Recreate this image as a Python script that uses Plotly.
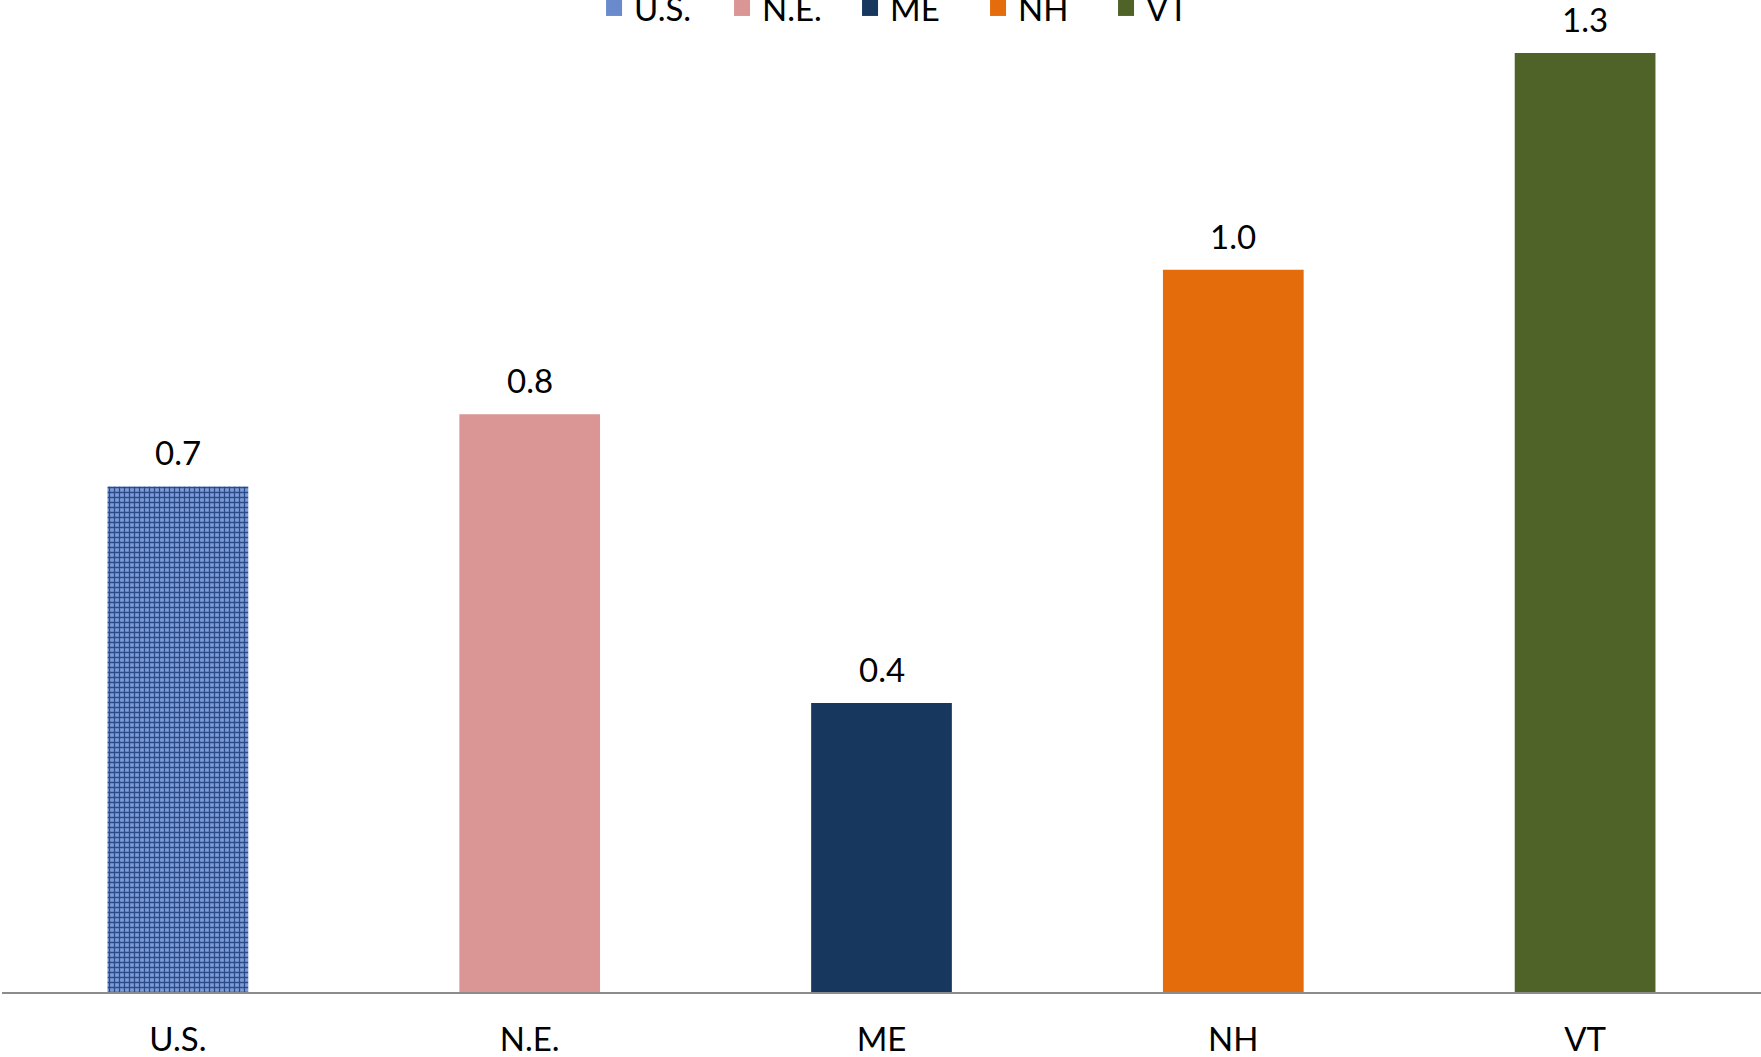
import plotly.graph_objects as go

categories = ["U.S.", "N.E.", "ME", "NH", "VT"]
values = [0.7, 0.8, 0.4, 1.0, 1.3]
colors = ["#6F8FCF", "#D99694", "#17375E", "#E46C0A", "#4F6228"]

FONT = "Lato, Open Sans, sans-serif"

fig = go.Figure()
for i, (cat, val, col) in enumerate(zip(categories, values, colors)):
    marker = dict(color=col, line=dict(width=0))
    if i == 0:
        marker["pattern"] = dict(shape="+", fgcolor="#2B4A88", bgcolor="#7E9DD8",
                                 size=5, solidity=0.45, fillmode="replace")
    fig.add_trace(go.Bar(x=[cat], y=[val], name=cat, marker=marker, width=0.4,
                         hoverinfo="skip", showlegend=False))
    fig.add_trace(go.Scatter(x=[None], y=[None], name=cat, mode="markers",
                             marker=dict(symbol="square", size=16,
                                         color="#6A8ACB" if i == 0 else col),
                             hoverinfo="skip"))
    fig.add_annotation(x=cat, y=val, text=f"{val:.1f}", showarrow=False,
                       yanchor="bottom", yshift=12,
                       font=dict(family=FONT, size=33, color="#000000"))

fig.update_layout(
    width=1761, height=1057,
    barmode="overlay",
    plot_bgcolor="white", paper_bgcolor="white",
    margin=dict(l=2, r=0, t=0, b=65, autoexpand=False),
    showlegend=True,
    legend=dict(orientation="h", x=0.5185, xanchor="center", y=1 - 8 / 992, yanchor="middle",
                font=dict(family=FONT, size=33, color="#000000"),
                bgcolor="rgba(0,0,0,0)", itemwidth=30, tracegroupgap=0,
                itemsizing="trace", entrywidth=83, entrywidthmode="pixels"),
    font=dict(family=FONT, size=33, color="#000000"),
)
fig.update_xaxes(categoryorder="array", categoryarray=categories,
                 range=[-0.5, 4.5], showline=True, linecolor="#8C8C8C", linewidth=2,
                 ticks="", showgrid=False, ticklabelstandoff=17,
                 tickfont=dict(family=FONT, size=33, color="#000000"))
fig.update_yaxes(range=[0, 1.3734], visible=False, showgrid=False, zeroline=False)

fig.write_html("out.html", config={"displayModeBar": False},
               post_script="document.body.style.margin='0px';document.body.style.overflow='hidden';")
